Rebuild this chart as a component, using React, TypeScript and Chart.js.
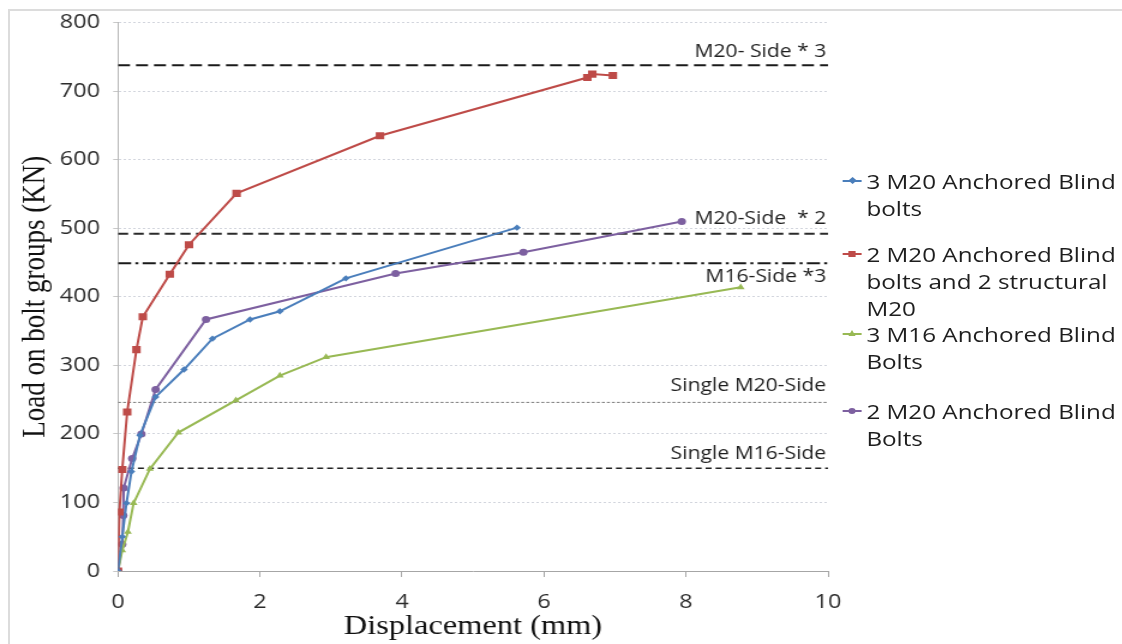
import React, { useEffect, useRef } from "react";
import { Chart, registerables } from "chart.js";

Chart.register(...registerables);

// ---- Data ----
const blueX = [0, 0.06, 0.12, 0.19, 0.31, 0.53, 0.93, 1.33, 1.86, 2.28, 3.21, 5.62];
const blueY = [0, 50, 99, 145, 198, 254, 294, 339, 367, 379, 427, 501];

const redX = [0, 0.02, 0.06, 0.13, 0.26, 0.35, 0.73, 1.0, 1.67, 3.69, 6.61, 6.68, 6.97];
const redY = [0, 86, 148, 232, 323, 371, 433, 476, 551, 635, 720, 725, 723];

const greenX = [0, 0.06, 0.14, 0.22, 0.45, 0.85, 1.66, 2.28, 2.93, 8.77];
const greenY = [0, 30, 57, 99, 149, 202, 249, 285, 312, 414];

const purpleX = [0, 0.06, 0.075, 0.08, 0.2, 0.33, 0.53, 1.24, 3.91, 5.71, 7.94];
const purpleY = [0, 39, 81, 121, 164, 200, 265, 367, 434, 465, 510];

const seriesLabels = [
  ["3 M20 Anchored Blind", "bolts"],
  ["2 M20 Anchored Blind", "bolts and 2 structural", "M20"],
  ["3 M16 Anchored Blind", "Bolts"],
  ["2 M20 Anchored Blind", "Bolts"],
];

const refValues = [738, 492, 449, 246, 150];
const refLabels = ["M20- Side * 3", "M20-Side  * 2", "M16-Side *3", "Single M20-Side", "Single M16-Side"];

const xMin = 0;
const xMax = 10;
const xStep = 2;
const yMin = 0;
const yMax = 800;
const yStep = 100;

const xTitle = "Displacement (mm)";
const yTitle = "Load on bolt groups (KN)";

// ---- Styles ----
// the reference is horizontally stretched; draw in an inner space and stretch it
const STRETCH = 1.2;
const INNER_W = Math.round(1122 / STRETCH); // 935

const seriesColors = ["#4A7EBB", "#BE4B48", "#98B954", "#7D60A0"];
const seriesShapes = ["rectRot", "rect", "triangle", "circle"];
const seriesRadii = [3.2, 5, 3.8, 3.5];

const refStyles = [
  { dash: [10, 5], width: 2, color: "#1a1a1a", dy: -13 },
  { dash: [8.5, 4.5], width: 2, color: "#2a2a2a", dy: -15 },
  { dash: [11, 3.5, 2.5, 3.5], width: 2, color: "#1a1a1a", dy: 14 },
  { dash: [2.5, 1.7], width: 1, color: "#7a7a7a", dy: -16 },
  { dash: [5, 3.3], width: 1.5, color: "#222222", dy: -14 },
];

const legendCenters = [181, 254, 334, 411];

const SANS = "'Open Sans', 'DejaVu Sans', sans-serif";
const SERIF = "'Liberation Serif', 'DejaVu Serif', serif";

function zip(xs: number[], ys: number[]) {
  return xs.map((x, i) => ({ x, y: ys[i] }));
}

const refLabelPlugin = {
  id: "refLabels",
  afterDatasetsDraw(chart: any) {
    const { ctx, chartArea, scales } = chart;
    ctx.save();
    ctx.font = `17.6px ${SANS}`;
    ctx.fillStyle = "#1e1e1e";
    ctx.textAlign = "right";
    ctx.textBaseline = "middle";
    refValues.forEach((v, i) => {
      const y = scales.y.getPixelForValue(v);
      ctx.fillText(refLabels[i], chartArea.right - 1.5, y + refStyles[i].dy);
    });
    ctx.restore();
  },
};

function LegendMarker({ idx }: { idx: number }) {
  const c = seriesColors[idx];
  let marker: any = null;
  if (idx === 0) {
    marker = <div style={{ position: "absolute", left: 5.5, top: 10.5, width: 5, height: 5, background: c, transform: "rotate(45deg)" }} />;
  } else if (idx === 1) {
    marker = <div style={{ position: "absolute", left: 5, top: 10, width: 6, height: 6, background: c }} />;
  } else if (idx === 2) {
    marker = (
      <div
        style={{
          position: "absolute",
          left: 4.5,
          top: 9.5,
          width: 0,
          height: 0,
          borderLeft: "3.5px solid transparent",
          borderRight: "3.5px solid transparent",
          borderBottom: `6px solid ${c}`,
        }}
      />
    );
  } else {
    marker = <div style={{ position: "absolute", left: 5, top: 10, width: 6, height: 6, borderRadius: 3, background: c }} />;
  }
  return (
    <div style={{ position: "relative", width: 16, height: 27, flex: "0 0 16px" }}>
      <div style={{ position: "absolute", left: 0, top: 12, width: 16, height: 2, background: c }} />
      {marker}
    </div>
  );
}

export default function App() {
  const canvasRef = useRef<HTMLCanvasElement | null>(null);

  useEffect(() => {
    if (!canvasRef.current) return;
    const seriesX = [blueX, redX, greenX, purpleX];
    const seriesY = [blueY, redY, greenY, purpleY];
    const seriesDatasets = seriesX.map((xs, i) => ({
      label: seriesLabels[i].join(" "),
      data: zip(xs, seriesY[i]),
      showLine: true,
      borderColor: seriesColors[i],
      backgroundColor: seriesColors[i],
      borderWidth: 2,
      pointStyle: seriesShapes[i],
      pointRadius: seriesRadii[i],
      pointBorderWidth: 0,
      pointBackgroundColor: seriesColors[i],
      tension: 0,
      order: 1,
    }));
    const refDatasets = refValues.map((v, i) => ({
      label: refLabels[i],
      data: [
        { x: xMin, y: v },
        { x: xMax, y: v },
      ],
      showLine: true,
      borderColor: refStyles[i].color,
      borderDash: refStyles[i].dash,
      borderWidth: refStyles[i].width,
      pointRadius: 0,
      order: 2,
    }));

    const chart = new Chart(canvasRef.current, {
      type: "scatter",
      data: { datasets: [...seriesDatasets, ...refDatasets] as any },
      options: {
        animation: false,
        responsive: false,
        maintainAspectRatio: false,
        layout: { padding: { left: 0, right: INNER_W - 690, top: 18, bottom: 0 } },
        plugins: {
          legend: { display: false },
          tooltip: { enabled: false },
        },
        scales: {
          x: {
            type: "linear",
            min: xMin,
            max: xMax,
            ticks: {
              stepSize: xStep,
              color: "#2b2b2b",
              font: { family: SANS, size: 19.5 },
              padding: 14,
            },
            grid: {
              drawOnChartArea: false,
              drawTicks: true,
              tickLength: 6,
              color: "#a6a6a6",
            },
            border: { display: true, color: "#a6a6a6", width: 1 },
            title: {
              display: true,
              text: xTitle,
              color: "#111",
              font: { family: SERIF, size: 27 },
              padding: { top: 0, bottom: 1 },
            },
            afterFit: (s: any) => {
              s.height = 73;
            },
          },
          y: {
            type: "linear",
            min: yMin,
            max: yMax,
            ticks: {
              stepSize: yStep,
              color: "#2b2b2b",
              font: { family: SANS, size: 19.5 },
              padding: 11,
            },
            grid: {
              color: "#d2d5dd",
              lineWidth: 1,
              tickLength: 4,
              tickColor: "#c8c8c8",
            } as any,
            border: { display: true, color: "#b8b8b8", dash: [2, 2], width: 1 },
            title: {
              display: true,
              text: yTitle,
              color: "#111",
              font: { family: SERIF, size: 27 },
              padding: { top: 13.5, bottom: 0 },
            },
            afterFit: (s: any) => {
              s.width = 98.3;
            },
          },
        },
      },
      plugins: [refLabelPlugin],
    });
    (chart.options.scales as any).y.grid.dash = [4, 3];
    (chart.options.scales as any).y.border.dash = [2, 2];
    chart.update();

    return () => {
      chart.destroy();
    };
  }, []);

  return (
    <div style={{ position: "absolute", left: 0, top: 0, width: 1122, height: 644, background: "#fff", overflow: "hidden" }}>
      <div
        style={{
          position: "absolute",
          left: 8,
          top: 9,
          width: 1122,
          height: 660,
          borderTop: "2px solid #dcdcdc",
          borderLeft: "2px solid #dcdcdc",
        }}
      />
      <div
        style={{
          position: "absolute",
          left: 0,
          top: 0,
          width: INNER_W,
          height: 644,
          transform: `scaleX(${STRETCH})`,
          transformOrigin: "0 0",
        }}
      >
        <canvas
          ref={canvasRef}
          width={INNER_W}
          height={644}
          style={{ position: "absolute", left: 0, top: 0, width: INNER_W, height: 644 }}
        />
        {seriesLabels.map((lines, i) => (
          <div
            key={i}
            style={{
              position: "absolute",
              left: 702,
              top: legendCenters[i] - 13.5,
              display: "flex",
              alignItems: "flex-start",
              fontFamily: SANS,
              fontSize: 20.2,
              lineHeight: "27px",
              color: "#1e1e1e",
              whiteSpace: "nowrap",
            }}
          >
            <LegendMarker idx={i} />
            <div style={{ paddingLeft: 4 }}>
              {lines.map((l, j) => (
                <div key={j}>{l}</div>
              ))}
            </div>
          </div>
        ))}
      </div>
    </div>
  );
}
